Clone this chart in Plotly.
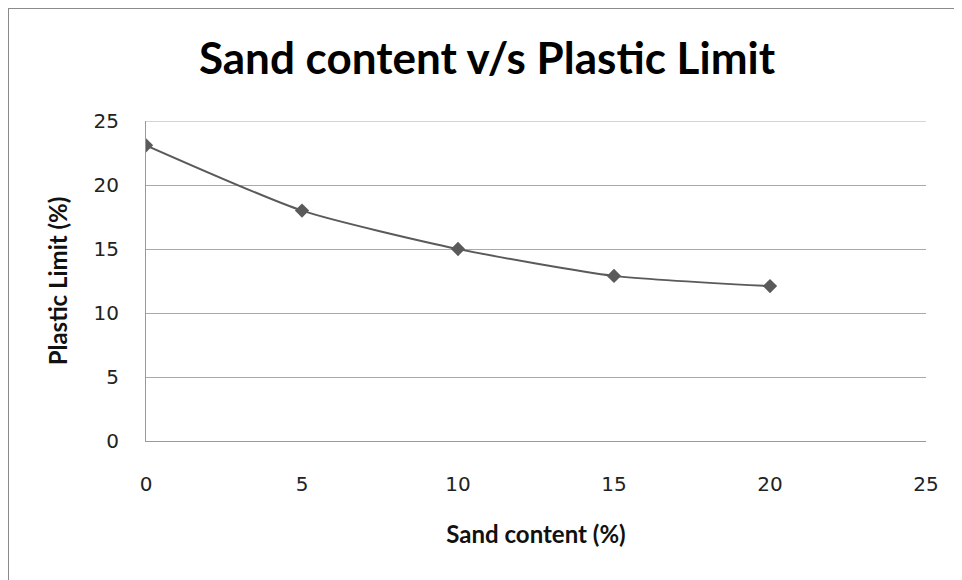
import plotly.graph_objects as go

# sand content (%) vs plastic limit (%)
sand = [0, 5, 10, 15, 20]
plastic_limit = [23.1, 18.0, 15.0, 12.9, 12.1]

x_ticks = [0, 5, 10, 15, 20, 25]
y_ticks = [0, 5, 10, 15, 20, 25]

# the page body has an 8px margin, so the figure is a bit smaller than the window
OFF = 8
W, H = 962 - OFF, 580 - OFF
L, R, T, B = 146 - OFF, 36, 121 - OFF, 139

fig = go.Figure(go.Scatter(
    x=sand, y=plastic_limit, mode="lines+markers",
    line=dict(color="#5a5a5a", width=2, shape="spline", smoothing=0.6),
    marker=dict(symbol="diamond", size=11, color="#5a5a5a"),
    showlegend=False,
))

tick_font = dict(family="DejaVu Sans", size=20, color="#222")
fig.update_xaxes(range=[0, 25], tickvals=x_ticks, showgrid=False, zeroline=False,
                 showline=True, linecolor="#999", linewidth=1, ticks="",
                 tickfont=tick_font, ticklabelstandoff=25,
                 title=dict(text="<b>Sand content (%)</b>", standoff=31,
                            font=dict(family="Lato", size=24, color="#111")))
fig.update_yaxes(range=[0, 25], tickvals=y_ticks, showgrid=True, gridcolor="#aaa",
                 gridwidth=1, zeroline=False, showline=True, linecolor="#999",
                 linewidth=1, ticks="", tickfont=tick_font, ticklabelstandoff=22,
                 title=dict(text="<b>Plastic Limit (%)</b>", standoff=19,
                            font=dict(family="Lato", size=24, color="#111")))

# top gridline sits on the plot edge, draw it explicitly
fig.add_hline(y=25, line=dict(color="#aaa", width=1))

# page pixel -> paper coordinates
def px_x(p):
    return (p - OFF - L) / (W - L - R)

def px_y(p):
    return (H - B - (p - OFF)) / (H - T - B)

# outer chart frame (only top and left edges are visible in the picture)
fig.add_shape(type="line", xref="paper", yref="paper",
              x0=px_x(8), x1=px_x(990), y0=px_y(8), y1=px_y(8),
              line=dict(color="#8a8a8a", width=2))
fig.add_shape(type="line", xref="paper", yref="paper",
              x0=px_x(8), x1=px_x(8), y0=px_y(8), y1=px_y(600),
              line=dict(color="#8a8a8a", width=2))

fig.update_layout(
    width=W, height=H,
    margin=dict(l=L, r=R, t=T, b=B),
    paper_bgcolor="white", plot_bgcolor="white",
    title=dict(text="<b>Sand content v/s Plastic Limit</b>", x=px_x(487), xanchor="center",
               xref="paper", y=1 - (59 - OFF) / H, yanchor="middle",
               font=dict(family="Lato", size=44, color="black")),
)

fig.write_html("out.html")
